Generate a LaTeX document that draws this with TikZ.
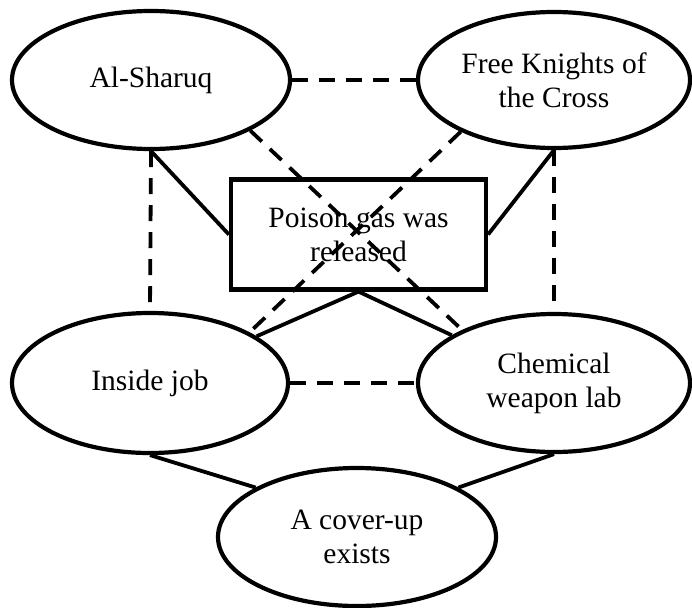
\documentclass[tikz,border=0pt]{standalone}
\usepackage{fontspec}
\setmainfont{Liberation Serif}
\usetikzlibrary{shapes.geometric}
\begin{document}
\begin{tikzpicture}[x=1pt,y=-1pt,
  oval/.style={draw, ellipse, line width=4.2pt, inner sep=0pt, align=center,
    font=\fontsize{29.5}{34}\selectfont},
  claim/.style={draw, rectangle, line width=4.2pt, inner sep=0pt, align=center,
    minimum width=255pt, minimum height=110pt,
    font=\fontsize{29.5}{34}\selectfont},
  link/.style={line width=3.8pt},
  rival/.style={line width=3.8pt, dash pattern=on 16pt off 11pt}]
\useasboundingbox (0,0) rectangle (692,607);

% explanations and evidence
\node[oval, minimum width=278pt, minimum height=138pt] (as) at (151,80) {Al-Sharuq};
\node[oval, minimum width=272pt, minimum height=136pt] (fk) at (554,80) {Free Knights of\\the Cross};
\node[claim] (gas) at (358.5,234.5) {Poison gas was\\released};
\node[oval, minimum width=276pt, minimum height=140pt] (ij) at (150,383) {Inside job};
\node[oval, minimum width=272pt, minimum height=138pt] (lab) at (554,383) {Chemical\\weapon lab};
\node[oval, minimum width=278pt, minimum height=138pt] (cu) at (357,537) {A cover-up\\exists};

% competing explanations
\draw[rival] (as) -- (fk);
\draw[rival] (ij) -- (lab);
\draw[rival] (as.south) -- (ij.north);
\draw[rival] (fk.south) -- (lab.north);
\draw[rival] (as.-27.5) -- (lab.150);
\draw[rival] (fk.-151.3) -- (ij.27);

% supporting links
\draw[link] (as.south) -- (gas.west);
\draw[link] (fk.south) -- (gas.east);
\draw[link] (gas.south) -- (ij);
\draw[link] (gas.south) -- (lab);
\draw[link] (ij.south) -- (cu.154);
\draw[link] (lab.south) -- (cu.26);
\end{tikzpicture}
\end{document}
